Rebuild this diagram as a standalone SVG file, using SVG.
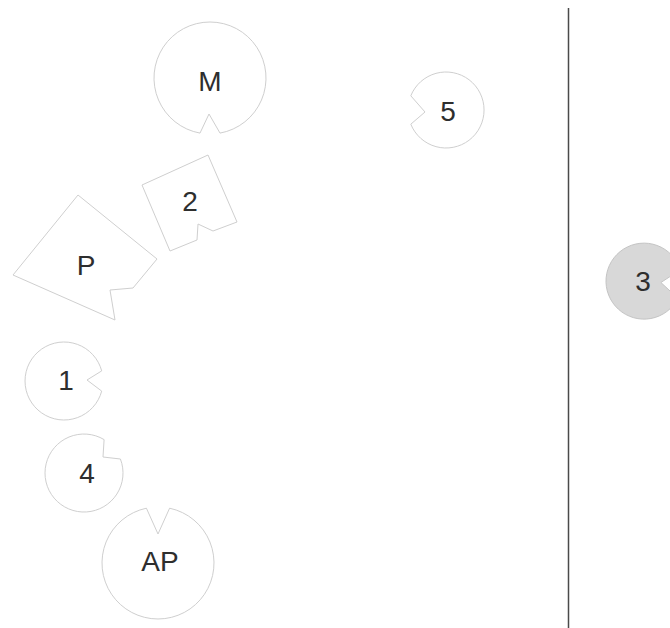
<svg xmlns="http://www.w3.org/2000/svg" width="670" height="628" viewBox="0 0 670 628">
<style>
.seat{fill:#ffffff;stroke:#cfcfcf;stroke-width:1}
.dark{fill:#d8d8d8;stroke:#c4c4c4;stroke-width:1}
.lbl{font-family:"Liberation Sans",Arial,sans-serif;font-size:28px;fill:#2e2e2e;text-anchor:middle;dominant-baseline:central}
</style>
<rect width="670" height="628" fill="#ffffff"/>
<g id="divider"><line x1="568.5" y1="8" x2="568.5" y2="628" stroke="#4a4a4a" stroke-width="1.5"/></g>
<g id="node-M"><path class="seat" d="M200,133.1 A56,56 0 1 1 220,133.1 L209,114 Z"/><text class="lbl" x="210" y="81">M</text></g>
<g id="node-5"><path class="seat" d="M410.8,95.8 A38,38 0 1 1 410.8,124.2 L425,112 Z"/><text class="lbl" x="448" y="111">5</text></g>
<g id="node-2"><path class="seat" d="M142,185 L208,155 L237,222 L213,231 L198,224 L197,240 L170,251 Z"/><text class="lbl" x="190" y="201">2</text></g>
<g id="node-P"><path class="seat" d="M78,195 L157,259 L133,288 L110,290 L115,320 L13,275 Z"/><text class="lbl" x="86" y="265">P</text></g>
<g id="node-1"><path class="seat" d="M101.7,391.1 A39,39 0 1 1 101.7,370.9 L87,380 Z"/><text class="lbl" x="66" y="380">1</text></g>
<g id="node-4"><path class="seat" d="M120.4,459 A39,39 0 1 1 104.1,439.6 L103,457 Z"/><text class="lbl" x="87" y="473">4</text></g>
<g id="node-AP"><path class="seat" d="M169.6,508.2 A56,56 0 1 1 146.4,508.2 L158,534 Z"/><text class="lbl" x="160" y="561">AP</text></g>
<g id="node-3"><path class="dark" d="M677.9,298.3 A38,38 0 1 1 680.3,269.9 L660.9,282.5 Z"/><text class="lbl" x="643" y="281">3</text></g>
</svg>
